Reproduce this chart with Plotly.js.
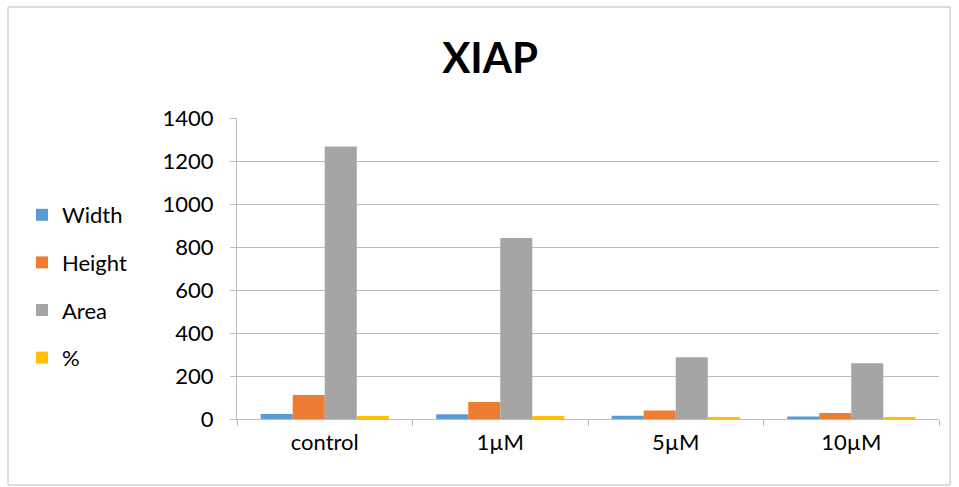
<!DOCTYPE html>
<html>
<head>
<meta charset="utf-8">
<script src="https://cdn.plot.ly/plotly-3.0.1.min.js"></script>
<style>html,body{margin:0;padding:0;background:#fff}#chart{width:959px;height:487px}</style>
</head>
<body>
<div id="chart"></div>
<script>
const categories = ["control", "1µM", "5µM", "10µM"];
const widthVals = [23, 22, 15, 12];
const heightVals = [112, 79, 40, 28];
const areaVals = [1268, 842, 287, 259];
const pctVals = [14, 14, 8, 5];
const seriesNames = ["Width", "Height", "Area", "%"];
const colors = ["#5b9bd5", "#ed7d31", "#a5a5a5", "#ffc000"];
const yTicks = [0, 200, 400, 600, 800, 1000, 1200, 1400];

const allVals = [widthVals, heightVals, areaVals, pctVals];
const traces = allVals.map((v, i) => ({
  type: "bar",
  x: categories,
  y: v,
  name: seriesNames[i],
  legendgroup: "g" + i,
  marker: {color: colors[i], line: {width: 0}}
}));

const layout = {
  width: 959, height: 487,
  margin: {l: 237, r: 20, t: 118, b: 68},
  paper_bgcolor: "#fff", plot_bgcolor: "#fff",
  font: {family: "Lato, 'Liberation Sans', sans-serif", size: 22, color: "#000"},
  title: {text: "<b>XIAP</b>", font: {size: 42, family: "Lato, 'Liberation Sans', sans-serif", color: "#000"},
          x: 0.511, xanchor: "center", y: 1 - 58/487, yanchor: "middle"},
  barmode: "group", bargap: 0.27, bargroupgap: 0,
  showlegend: true,
  legend: {x: (22 - 237) / 702, xanchor: "left", y: (419 - 194) / 301, yanchor: "top", tracegroupgap: 16,
           font: {size: 22}, itemwidth: 30, traceorder: "grouped"},
  xaxis: {
    type: "category", tickson: "boundaries", ticks: "outside", ticklen: 6,
    tickcolor: "#bcbcbc", showline: true, linecolor: "#bcbcbc", linewidth: 1,
    showgrid: false, tickfont: {size: 22}, ticklabelstandoff: 4
  },
  yaxis: {
    range: [0, 1400], tickvals: yTicks, ticks: "outside", ticklen: 6, tickcolor: "#bcbcbc",
    showline: true, linecolor: "#bcbcbc", gridcolor: "#bcbcbc", gridwidth: 1,
    zeroline: false, tickfont: {size: 22}, ticklabelstandoff: 12
  },
  shapes: [{
    type: "rect", xref: "paper", yref: "paper",
    x0: (8 - 237) / 702, x1: (950 - 237) / 702,
    y0: (419 - 485) / 301, y1: (419 - 7) / 301,
    line: {color: "#bcbcbc", width: 1}, fillcolor: "rgba(0,0,0,0)", layer: "below"
  }]
};

Plotly.newPlot("chart", traces, layout, {displayModeBar: false, responsive: false});
</script>
</body>
</html>
